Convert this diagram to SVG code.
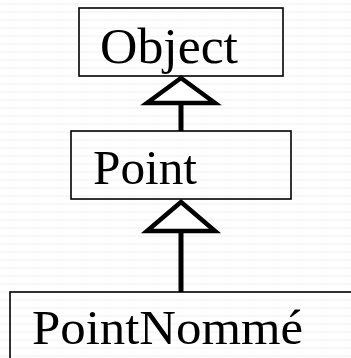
<svg xmlns="http://www.w3.org/2000/svg" width="351" height="358" viewBox="0 0 351 358">
  <defs>
    <!-- faint wavy background texture -->
    <pattern id="waves" width="6" height="8" patternUnits="userSpaceOnUse">
      <path d="M0 5 L1.5 3 L3 5 L4.5 3 L6 5" fill="none" stroke="#efefef" stroke-width="0.8"/>
    </pattern>
  </defs>
  <style>
    .box { fill: none; stroke: #000; stroke-width: 1.6; }
    .label { font-family: "Liberation Serif", "DejaVu Serif", serif; fill: #000; }
    .stem { stroke: #000; stroke-width: 5; fill: none; }
    .head { stroke: #000; stroke-width: 4.5; fill: #fff; stroke-linejoin: miter; }
  </style>

  <rect width="351" height="358" fill="#ffffff"/>
  <rect width="351" height="358" fill="url(#waves)"/>

  <g id="connectors">
    <!-- Point extends Object -->
    <line class="stem" x1="181" y1="104" x2="181" y2="131"/>
    <polygon class="head" points="181,78 147,103 215,103"/>
    <!-- PointNommé extends Point -->
    <line class="stem" x1="181" y1="232" x2="181" y2="292"/>
    <polygon class="head" points="181,202 147,231 215,231"/>
  </g>

  <g id="object">
    <rect class="box" x="79" y="8" width="204" height="68"/>
    <text class="label" x="100" y="63" font-size="51" textLength="138" lengthAdjust="spacingAndGlyphs">Object</text>
  </g>

  <g id="point">
    <rect class="box" x="71" y="131" width="220" height="68"/>
    <text class="label" x="93" y="184" font-size="48" textLength="104" lengthAdjust="spacingAndGlyphs">Point</text>
  </g>

  <g id="pointnomme">
    <rect class="box" x="10" y="292" width="360" height="90"/>
    <text class="label" x="32" y="344" font-size="48" textLength="271" lengthAdjust="spacingAndGlyphs">PointNommé</text>
  </g>
</svg>
